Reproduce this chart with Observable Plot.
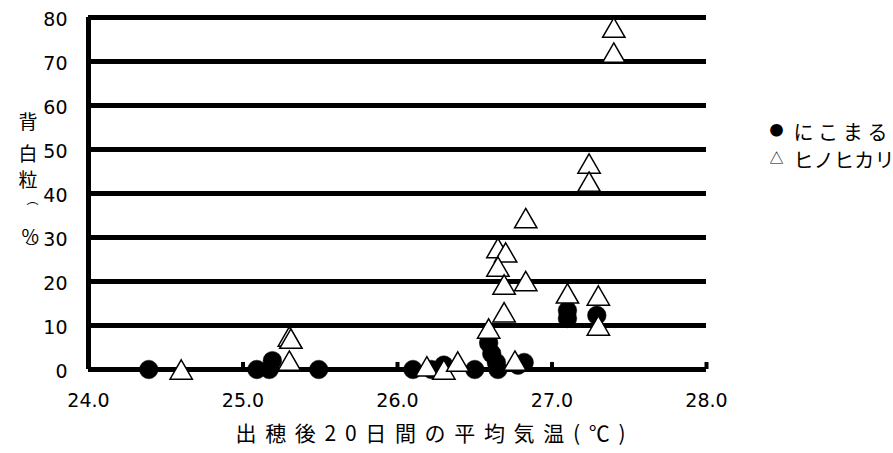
<!DOCTYPE html>
<html><head><meta charset="utf-8">
<script src="https://cdn.jsdelivr.net/npm/d3@7"></script>
<script src="https://cdn.jsdelivr.net/npm/@observablehq/plot@0.6"></script>
<style>body{margin:0;background:#fff} #chart{width:893px;height:453px;overflow:hidden}</style>
</head><body><div id="chart"></div><script>
// にこまる (●)
const nikomaruX = [24.39, 25.09, 25.19, 25.17, 25.49, 26.10, 26.22, 26.30, 26.50, 26.59, 26.61, 26.64, 26.65, 26.78, 26.82, 27.10, 27.10, 27.29];
const nikomaruY = [0, 0, 2, 0, 0, 0, 0, 1, 0, 6, 3.6, 1.6, 0, 1, 1.6, 13.4, 11.6, 12.3];
// ヒノヒカリ (△)
const hinoX = [24.60, 25.30, 25.31, 25.30, 26.19, 26.30, 26.39, 26.59, 26.65, 26.70, 26.65, 26.69, 26.69, 26.76, 26.83, 26.83, 27.10, 27.24, 27.24, 27.30, 27.30, 27.40, 27.40];
const hinoY = [0, 7.5, 7, 2, 0.7, 0, 1.8, 9.3, 27.6, 26.6, 23.4, 19.3, 13, 2, 34.4, 20.1, 17.3, 46.8, 42.7, 16.8, 10, 77.7, 72];
// axes
const xDomain = [24, 28];
const yDomain = [0, 80];
const xTicks = [24, 25, 26, 27, 28];
const xTickMarks = [25, 26, 27, 28];
const yTicks = [0, 10, 20, 30, 40, 50, 60, 70, 80];
const seriesNames = ["にこまる", "ヒノヒカリ"];
const xLabel = "出穂後20日間の平均気温(℃)";

const nikomaru = nikomaruX.map((x, i) => ({x, y: nikomaruY[i]}));
const hino = hinoX.map((x, i) => ({x, y: hinoY[i]}));
const jp = "Noto Sans CJK JP";

const plot = Plot.plot({
  width: 893, height: 453,
  marginLeft: 88, marginRight: 187, marginTop: 17, marginBottom: 84,
  style: {fontFamily: "DejaVu Sans", fontSize: "19px", background: "#fff", color: "#000", overflow: "visible"},
  x: {domain: xDomain},
  y: {domain: yDomain},
  marks: [
    Plot.ruleY(yTicks, {stroke: "#000", strokeWidth: 5}),
    Plot.ruleX([xDomain[0]], {y1: yDomain[0], y2: yDomain[1], stroke: "#000", strokeWidth: 5}),
    Plot.ruleX(xTickMarks, {y1: 0, y2: 1.6, stroke: "#000", strokeWidth: 4}),
    Plot.axisY(yTicks, {tickSize: 0, tickPadding: 21, label: null, dy: 2.5}),
    Plot.axisX(xTicks, {tickSize: 0, tickPadding: 24, tickFormat: d3.format(".1f"), label: null}),
    Plot.dot(nikomaru, {x: "x", y: "y", r: 9.3, fill: "#000", stroke: "#000", strokeWidth: 0.5}),
    Plot.dot(hino, {x: "x", y: "y", symbol: "triangle", r: 8.3, fill: "#fff", stroke: "#000", strokeWidth: 1.5, dy: 3.2}),
    // legend
    Plot.text(["●"], {text: d => d, frameAnchor: "top-right", dx: 77, dy: 108, fontFamily: jp, fontSize: 14}),
    Plot.text(["△"], {text: d => d, frameAnchor: "top-right", dx: 77, dy: 136, fontFamily: jp, fontSize: 14}),
    Plot.text([seriesNames[0]], {text: d => d, frameAnchor: "top-right", dx: 87, dy: 108, textAnchor: "start", fontFamily: jp, fontSize: 20}),
    Plot.text([seriesNames[1]], {text: d => d, frameAnchor: "top-right", dx: 87, dy: 136, textAnchor: "start", fontFamily: jp, fontSize: 20}),
    // x label
    Plot.text([xLabel], {text: d => d, frameAnchor: "bottom", dx: 33, dy: 71, fontFamily: jp, fontSize: 21}),
    // y label (vertical)
    Plot.text(["背"], {text: d => d, frameAnchor: "left", dx: -70, dy: -71, fontFamily: jp, fontSize: 19}),
    Plot.text(["白"], {text: d => d, frameAnchor: "left", dx: -70, dy: -39, fontFamily: jp, fontSize: 19}),
    Plot.text(["粒"], {text: d => d, frameAnchor: "left", dx: -70, dy: -13, fontFamily: jp, fontSize: 19}),
    Plot.text(["︵"], {text: d => d, frameAnchor: "left", dx: -62, dy: 7, fontFamily: jp, fontSize: 12}),
    Plot.text(["%"], {text: d => d, frameAnchor: "left", dx: -67, dy: 43, fontFamily: jp, fontSize: 19}),
    Plot.text(["︶"], {text: d => d, frameAnchor: "left", dx: -63, dy: 56, fontFamily: jp, fontSize: 12})
  ]
});
const svg = d3.select(plot);
svg.selectAll("text").each(function() {
  const t = this.textContent;
  if (t === xLabel) { this.setAttribute("textLength", 390); this.setAttribute("lengthAdjust", "spacing"); }
  if (t === seriesNames[0]) { this.setAttribute("textLength", 94); this.setAttribute("lengthAdjust", "spacing"); }
  if (t === seriesNames[1]) { this.setAttribute("textLength", 101); this.setAttribute("lengthAdjust", "spacing"); }
});
document.getElementById("chart").append(plot);
</script></body></html>
